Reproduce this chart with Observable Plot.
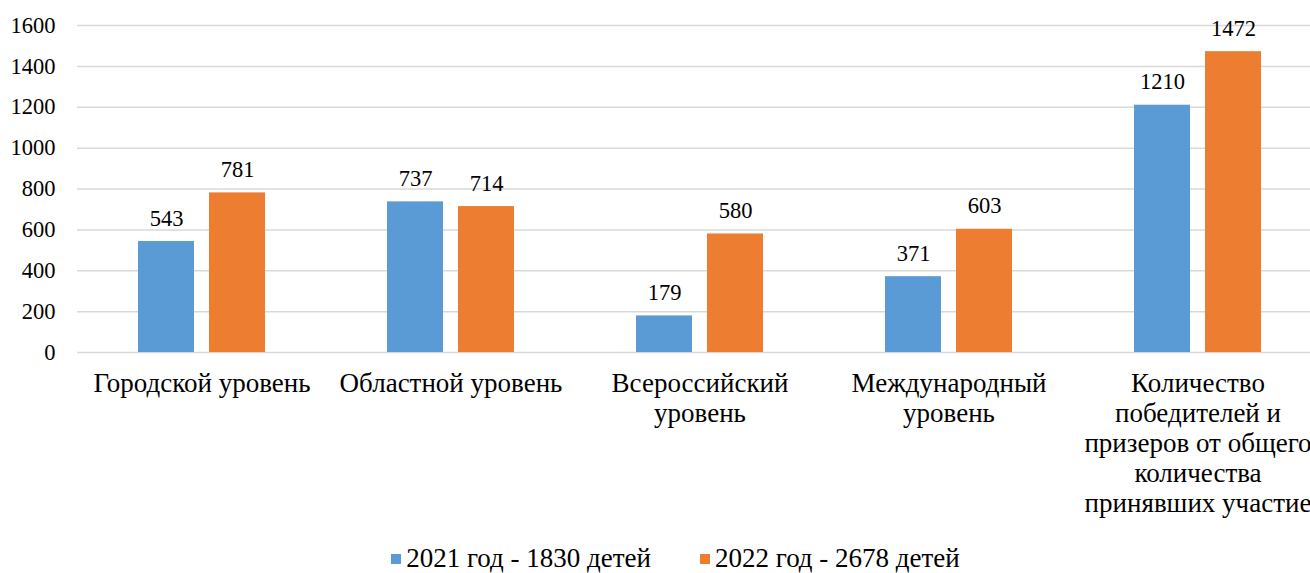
<!DOCTYPE html>
<html>
<head>
<meta charset="utf-8">
<script src="https://cdn.jsdelivr.net/npm/d3@7"></script>
<script src="https://cdn.jsdelivr.net/npm/@observablehq/plot@0.6"></script>
<style>
  html, body { margin: 0; padding: 0; background: #fff; font-family: 'Liberation Serif', serif; }
  body { position: relative; width: 1310px; height: 573px; overflow: hidden; }
  #chart { width: 1310px; height: 540px; overflow: hidden; }
  #chart svg { max-width: none !important; width: 1322px !important; height: 540px !important; }
  .legend { position: absolute; left: 0; top: 543px; width: 1310px; height: 30px; box-sizing: border-box;
    display: flex; justify-content: center; align-items: center; gap: 49px; padding-left: 41px;
    font-family: 'Liberation Serif', serif; font-size: 27px; line-height: 30px; color: #000; }
  .legend .item { display: flex; align-items: center; gap: 5px; }
  .legend .sw { width: 10px; height: 10px; display: inline-block; margin-top: 2px; }
</style>
</head>
<body>
<div id="chart"></div>
<script>
const categories = ["Городской уровень", "Областной уровень", "Всероссийский уровень", "Международный уровень", "Количество победителей и призеров от общего количества принявших участие"];
const tickLabels = ["Городской уровень", "Областной уровень", "Всероссийский\nуровень", "Международный\nуровень", "Количество\nпобедителей и\nпризеров от общего\nколичества\nпринявших участие"];
const series = ["2021 год - 1830 детей", "2022 год - 2678 детей"];
const values2021 = [543, 737, 179, 371, 1210];
const values2022 = [781, 714, 580, 603, 1472];
const yTicks = [0, 200, 400, 600, 800, 1000, 1200, 1400, 1600];
const colors = ["#5B9BD5", "#ED7D31"];

const data = categories.flatMap((c, i) => [
  {category: c, series: series[0], value: values2021[i]},
  {category: c, series: series[1], value: values2022[i]}
]);

const FONT = "'Liberation Serif', serif";

const chart = Plot.plot({
  width: 1322,
  height: 540,
  marginLeft: 77,
  marginRight: 0,
  marginTop: 25,
  marginBottom: 188,
  style: "font-family: 'Liberation Serif', serif; font-size: 22px; color: #000; background: #fff; max-width: none;",
  y: {domain: [0, 1600], ticks: yTicks, label: null},
  fx: {domain: categories, padding: 0, label: null},
  x: {domain: series, paddingInner: 0.211, paddingOuter: 0.859, axis: null},
  color: {domain: series, range: colors},
  marks: [
    Plot.gridY(yTicks, {stroke: "#d9d9d9", strokeOpacity: 1, strokeWidth: 1.5}),
    Plot.axisY(yTicks, {tickSize: 0, tickPadding: 22, fontSize: 22.5, fontFamily: FONT, fill: "#000", label: null, tickFormat: d => String(d)}),
    Plot.axisFx({anchor: "bottom", tickSize: 0, tickPadding: 18, fontSize: 27, fontFamily: FONT, lineHeight: 1.11, fill: "#000", label: null,
      tickFormat: d => tickLabels[categories.indexOf(d)]}),
    Plot.barY(data, {fx: "category", x: "series", y: "value", fill: "series"}),
    Plot.text(data, {fx: "category", x: "series", y: "value", text: d => String(d.value), dy: -23, fontSize: 22.5, fontFamily: FONT, fill: "#000"})
  ]
});
document.getElementById("chart").appendChild(chart);

const legend = document.createElement("div");
legend.className = "legend";
series.forEach((s, i) => {
  const item = document.createElement("div");
  item.className = "item";
  const sw = document.createElement("span");
  sw.className = "sw";
  sw.style.background = colors[i];
  const t = document.createElement("span");
  t.textContent = s;
  item.appendChild(sw);
  item.appendChild(t);
  legend.appendChild(item);
});
document.body.appendChild(legend);
</script>
</body>
</html>
